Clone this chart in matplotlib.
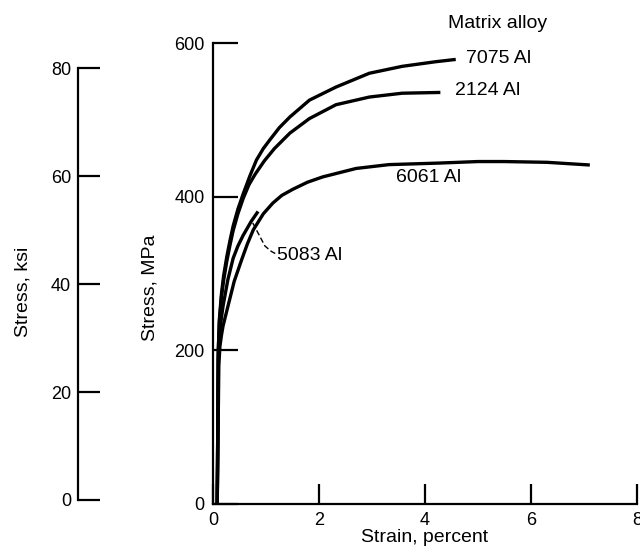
import matplotlib
matplotlib.use("Agg")
import matplotlib.pyplot as plt

# stress-strain curves (strain in percent, stress in MPa)
strain_7075 = [0.08, 0.10, 0.12, 0.16, 0.20, 0.26, 0.32, 0.38, 0.47, 0.57, 0.70, 0.82, 0.95, 1.07, 1.25, 1.45, 1.82, 2.32, 2.95, 3.57, 4.20, 4.58]
stress_7075 = [0, 200, 240, 274, 297, 322, 343, 362, 384, 404, 428, 448, 463, 474, 490, 504, 526, 543, 561, 570, 576, 579]

strain_2124 = [0.08, 0.10, 0.12, 0.16, 0.20, 0.26, 0.32, 0.38, 0.47, 0.57, 0.68, 0.80, 0.97, 1.16, 1.45, 1.82, 2.32, 2.95, 3.57, 4.29]
stress_2124 = [0, 200, 237, 270, 291, 316, 337, 356, 378, 398, 416, 430, 447, 463, 483, 502, 520, 530, 535, 536]

strain_6061 = [0.08, 0.11, 0.13, 0.16, 0.19, 0.28, 0.40, 0.54, 0.65, 0.76, 0.95, 1.13, 1.30, 1.51, 1.78, 2.07, 2.70, 3.32, 4.26, 5.00, 5.49, 6.30, 7.11]
stress_6061 = [0, 180, 205, 220, 232, 257, 290, 318, 339, 357, 378, 392, 402, 410, 419, 426, 437, 442, 444, 446, 446, 445, 441.5]

strain_5083 = [0.08, 0.10, 0.12, 0.15, 0.19, 0.28, 0.38, 0.47, 0.57, 0.72, 0.85]
stress_5083 = [0, 190, 215, 238, 258, 292, 320, 336, 350, 368, 381]

# dashed leader from the 5083 curve to its label
leader_x = [0.75, 0.98, 1.10, 1.18]
leader_y = [366, 336, 329, 326]

mpa_ticks = [0, 200, 400, 600]
strain_ticks = [0, 2, 4, 6, 8]
ksi_ticks = [0, 20, 40, 60, 80]

plt.rcParams["font.family"] = ["Liberation Sans", "DejaVu Sans"]
plt.rcParams["font.size"] = 14

fig = plt.figure(figsize=(6.4, 5.53), dpi=100)

# main axes (MPa)
ax = fig.add_axes([213 / 640, 49 / 553, 424 / 640, 460.7 / 553])
ax.set_xlim(0, 8)
ax.set_ylim(0, 600)
for s in ("top", "right"):
    ax.spines[s].set_visible(False)
for s in ("left", "bottom"):
    ax.spines[s].set_linewidth(1.6)
ax.set_xticks(strain_ticks)
ax.set_yticks(mpa_ticks)
ax.tick_params(axis="y", direction="in", length=18, width=1.6, pad=6, labelsize=13)
ax.tick_params(axis="x", direction="in", length=14.5, width=1.6, pad=6, labelsize=13)
ax.set_xlabel("Strain, percent", labelpad=0)

lw = 2.4
for xs, ys in [(strain_7075, stress_7075), (strain_2124, stress_2124),
               (strain_6061, stress_6061), (strain_5083, stress_5083)]:
    ax.plot(xs, ys, color="black", lw=lw, solid_capstyle="butt", solid_joinstyle="round")
ax.plot(leader_x, leader_y, color="black", lw=1.0, ls=(0, (4, 2)))

ax.text(4.43, 626, "Matrix alloy", va="center", ha="left", clip_on=False)
ax.text(4.77, 580, "7075 Al", va="center", ha="left")
ax.text(4.56, 539, "2124 Al", va="center", ha="left")
ax.text(3.46, 425, "6061 Al", va="center", ha="left")
ax.text(1.20, 324, "5083 Al", va="center", ha="left")

# secondary stress scale (ksi)
ax2 = fig.add_axes([78 / 640, 53 / 553, 0.001, 431.7 / 553])
ax2.set_ylim(0, 80)
ax2.set_yticks(ksi_ticks)
ax2.set_xticks([])
for s in ("top", "right", "bottom"):
    ax2.spines[s].set_visible(False)
ax2.spines["left"].set_linewidth(1.6)
ax2.patch.set_visible(False)
ax2.tick_params(axis="y", direction="in", length=15.5, width=1.6, pad=5, labelsize=13)

fig.text(150 / 640, 1 - 288 / 553, "Stress, MPa", rotation=90, ha="center", va="center")
fig.text(23 / 640, 1 - 292 / 553, "Stress, ksi", rotation=90, ha="center", va="center")

fig.savefig("out.png", dpi=100)
